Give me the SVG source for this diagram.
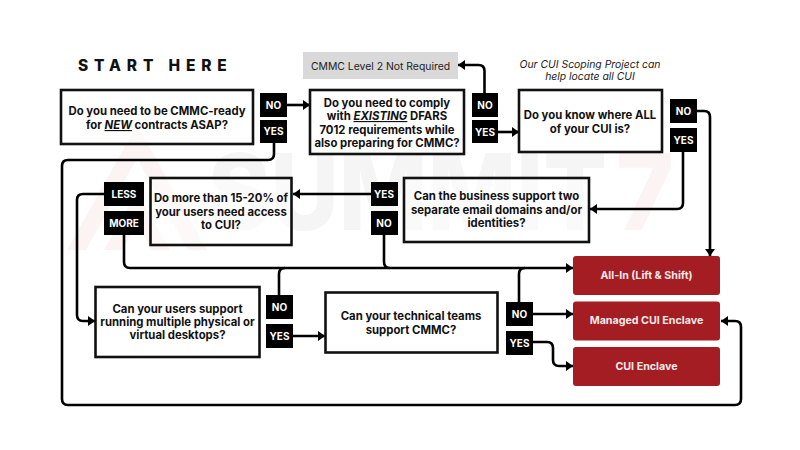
<svg xmlns="http://www.w3.org/2000/svg" width="800" height="450" viewBox="0 0 800 450">
<style>
text{font-family:"Inter","Liberation Sans",sans-serif}
.q{fill:#fff;fill-opacity:.5;stroke:#111;stroke-width:2.6}
.qt{font-size:11.35px;font-weight:700;fill:#111;text-anchor:middle}
.l{fill:#000}
.lt{font-size:10px;font-weight:700;fill:#fff;text-anchor:middle}
.r{fill:#a31d23}
.rt{font-size:10.7px;font-weight:700;fill:#f6e9e9;text-anchor:middle}
.c{fill:none;stroke:#000;stroke-width:2.6;stroke-linejoin:round}
.wm{font-size:106px;font-weight:800;fill:#f5f5f5}
.n{font-size:10.4px;fill:#222;text-anchor:middle}
</style>
<defs><marker id="a" markerUnits="userSpaceOnUse" markerWidth="9" markerHeight="11" refX="8" refY="5.500" orient="auto"><path d="M1 0.500L8 5.500L1 10.500Z" fill="#000"/></marker></defs>
<g id="watermark">
<path d="M67 250L137 125L207 250H188L137 158L86 250Z" fill="#fcf3f3"/>
<path d="M104 250L137 192L170 250H152L137 224L122 250Z" fill="#fcf3f3"/>
<text class="wm" x="208" y="230" textLength="399" lengthAdjust="spacingAndGlyphs">SUMMIT</text>
<text class="wm" x="616" y="230" textLength="58" lengthAdjust="spacingAndGlyphs" style="fill:#fcf4f4">7</text>
</g>
<text id="start-here" x="78" y="70.500" style="font-size:15.5px;font-weight:800;letter-spacing:5.85px;fill:#111">START HERE</text>
<g id="connectors">
<path class="c" marker-end="url(#a)" d="M287 105H310"/>
<path class="c" marker-end="url(#a)" d="M274 142V154Q274 160 268 160H68Q62 160 62 166V399Q62 405 68 405H735Q741 405 741 399V327Q741 321 735 321H721"/>
<path class="c" marker-end="url(#a)" d="M484.500 93V71Q484.500 65 478.500 65H458"/>
<path class="c" marker-end="url(#a)" d="M498 132H519"/>
<path class="c" marker-end="url(#a)" d="M696 111H704Q710 111 710 117V256"/>
<path class="c" marker-end="url(#a)" d="M683 151V203Q683 209 677 209H590"/>
<path class="c" marker-end="url(#a)" d="M371 194H293"/>
<path class="c" marker-end="url(#a)" d="M124 235V262Q124 268 130 268H573"/>
<path class="c" d="M384 235V262Q384 268 390 268"/>
<path class="c" marker-end="url(#a)" d="M104 194H83Q77 194 77 200V315Q77 321 83 321H95"/>
<path class="c" d="M279 295V274Q279 268 285 268"/>
<path class="c" marker-end="url(#a)" d="M292 336H325"/>
<path class="c" d="M519 302V274Q519 268 525 268"/>
<path class="c" marker-end="url(#a)" d="M533 314H573"/>
<path class="c" marker-end="url(#a)" d="M533 342H547Q553 342 553 348V360Q553 366 559 366H573"/>
</g>
<g id="n1"><rect class="q" x="61" y="90" width="192" height="54"/><text class="qt" x="157" y="115">Do you need to be CMMC-ready</text><text class="qt" x="157" y="129">for <tspan font-style="italic" text-decoration="underline">NEW</tspan> contracts ASAP?</text></g>
<g id="n1-no"><rect class="l" x="260" y="93" width="27" height="24"/><text class="lt" x="273.500" y="108.500">NO</text></g>
<g id="n1-yes"><rect class="l" x="260" y="120" width="27" height="23"/><text class="lt" x="273.500" y="135">YES</text></g>
<g id="n-notreq"><rect x="303" y="52" width="155" height="27" fill="#d9d9d9"/><text x="380.500" y="69.500" style="font-size:10.4px;fill:#222;text-anchor:middle">CMMC Level 2 Not Required</text></g>
<g id="n2"><rect class="q" x="310" y="90" width="154" height="64"/><text class="qt" x="387" y="106.500">Do you need to comply</text><text class="qt" x="387" y="120">with <tspan font-style="italic" text-decoration="underline">EXISTING</tspan> DFARS</text><text class="qt" x="387" y="133.500">7012 requirements while</text><text class="qt" x="387" y="147">also preparing for CMMC?</text></g>
<g id="n2-no"><rect class="l" x="472" y="93" width="26" height="24"/><text class="lt" x="485" y="109">NO</text></g>
<g id="n2-yes"><rect class="l" x="472" y="120" width="26" height="23"/><text class="lt" x="485" y="135.500">YES</text></g>
<g id="note"><text class="n" x="590" y="68" font-style="italic">Our CUI Scoping Project can</text><text class="n" x="590" y="80" font-style="italic">help locate all CUI</text></g>
<g id="n3"><rect class="q" x="519" y="90" width="143" height="62"/><text class="qt" x="590" y="119">Do you know where ALL</text><text class="qt" x="590" y="133">of your CUI is?</text></g>
<g id="n3-no"><rect class="l" x="670" y="99" width="27" height="24"/><text class="lt" x="683.500" y="115">NO</text></g>
<g id="n3-yes"><rect class="l" x="670" y="128" width="27" height="24"/><text class="lt" x="683.500" y="144">YES</text></g>
<g id="n4"><rect class="q" x="404" y="178" width="185" height="64"/><text class="qt" x="496.500" y="200">Can the business support two</text><text class="qt" x="496.500" y="214">separate email domains and/or</text><text class="qt" x="496.500" y="227">identities?</text></g>
<g id="n4-yes"><rect class="l" x="371" y="182" width="27" height="24"/><text class="lt" x="384" y="198">YES</text></g>
<g id="n4-no"><rect class="l" x="371" y="211" width="27" height="24"/><text class="lt" x="384" y="227">NO</text></g>
<g id="n5"><rect class="q" x="150.500" y="178" width="141" height="67"/><text class="qt" x="221" y="202">Do more than 15-20% of</text><text class="qt" x="221" y="216">your users need access</text><text class="qt" x="221" y="229">to CUI?</text></g>
<g id="n5-less"><rect class="l" x="104" y="182" width="40" height="24"/><text class="lt" x="124" y="197.500">LESS</text></g>
<g id="n5-more"><rect class="l" x="104" y="211" width="40" height="24"/><text class="lt" x="124" y="226.500">MORE</text></g>
<g id="n6"><rect class="q" x="95.500" y="287" width="164" height="70"/><text class="qt" x="177.500" y="313">Can your users support</text><text class="qt" x="177.500" y="326">running multiple physical or</text><text class="qt" x="177.500" y="339">virtual desktops?</text></g>
<g id="n6-no"><rect class="l" x="266" y="295" width="27" height="24"/><text class="lt" x="279.500" y="311">NO</text></g>
<g id="n6-yes"><rect class="l" x="266" y="324" width="27" height="24"/><text class="lt" x="279.500" y="340">YES</text></g>
<g id="n7"><rect class="q" x="325.500" y="292.500" width="172" height="60"/><text class="qt" x="411" y="320">Can your technical teams</text><text class="qt" x="411" y="334">support CMMC?</text></g>
<g id="n7-no"><rect class="l" x="506" y="302" width="27" height="24"/><text class="lt" x="519.500" y="318">NO</text></g>
<g id="n7-yes"><rect class="l" x="506" y="331" width="27" height="24"/><text class="lt" x="519.500" y="346.500">YES</text></g>
<g id="r1"><rect class="r" x="573" y="256" width="147" height="39" rx="3"/><text class="rt" x="646.500" y="278.500">All-In (Lift &amp; Shift)</text></g>
<g id="r2"><rect class="r" x="573" y="301.500" width="147" height="39" rx="3"/><text class="rt" x="646.500" y="324">Managed CUI Enclave</text></g>
<g id="r3"><rect class="r" x="573" y="347" width="147" height="39" rx="3"/><text class="rt" x="646.500" y="370">CUI Enclave</text></g>
</svg>
